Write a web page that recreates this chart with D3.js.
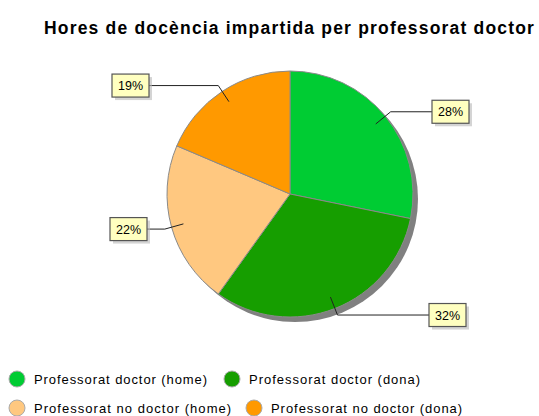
<!DOCTYPE html>
<html><head><meta charset="utf-8">
<script src="https://cdn.jsdelivr.net/npm/d3@7"></script>
<style>body{margin:0;background:#fff;}svg{display:block;font-family:Arial,"Liberation Sans",sans-serif;}</style>
</head><body>
<svg id="c" width="539" height="416"></svg>
<script>
const categories = ["Professorat doctor (home)", "Professorat doctor (dona)", "Professorat no doctor (home)", "Professorat no doctor (dona)"];
const values = [28.2, 31.7, 21.5, 18.6];
const colors = ["#00cc33", "#169e00", "#ffc880", "#ff9900"];
const title = "Hores de docència impartida per professorat doctor";

const svg = d3.select("#c");
const cx = 290, cy = 194, R = 123;

svg.append("text").attr("x", 44).attr("y", 34)
  .attr("font-size", 17.5).attr("font-weight", "bold").attr("letter-spacing", 1.1)
  .attr("fill", "#000").attr("textLength", 491).attr("lengthAdjust", "spacing").text(title);

const pie = d3.pie().sort(null).value(d => d)(values);
const arc = d3.arc().innerRadius(0).outerRadius(R);
const total = d3.sum(values);

const g = svg.append("g").attr("transform", `translate(${cx},${cy})`);
// shadow
g.append("circle").attr("cx", 5).attr("cy", 5).attr("r", R).attr("fill", "#808080");
g.selectAll("path.s").data(pie).enter().append("path")
  .attr("d", arc).attr("fill", (d, i) => colors[i])
  .attr("stroke", "#8a8a8a").attr("stroke-width", 1);

// labels
const boxX = [432, 429, 110, 112];
pie.forEach((d, i) => {
  const a = (d.startAngle + d.endAngle) / 2;
  const p1 = [Math.sin(a) * R * 0.9, -Math.cos(a) * R * 0.9];
  const p2 = [Math.sin(a) * (R + 7), -Math.cos(a) * (R + 7)];
  const right = Math.sin(a) > 0;
  const bw = 37, bh = 23;
  const bx = boxX[i] - cx;
  const by = p2[1] - bh / 2;
  const endX = right ? bx : bx + bw;
  g.append("polyline").attr("points", [p1, p2, [endX, p2[1]]].map(p => p.join(",")).join(" "))
    .attr("fill", "none").attr("stroke", "#222").attr("stroke-width", 1);
  g.append("rect").attr("x", bx + 3).attr("y", by + 3).attr("width", bw).attr("height", bh)
    .attr("fill", "#b8b8b8").attr("opacity", 0.6);
  g.append("rect").attr("x", bx).attr("y", by).attr("width", bw).attr("height", bh)
    .attr("fill", "#ffffc0").attr("stroke", "#555").attr("stroke-width", 1.2);
  g.append("text").attr("x", bx + bw / 2).attr("y", by + bh / 2 + 4.5).attr("text-anchor", "middle")
    .attr("font-size", 12.5).attr("fill", "#000").text(Math.round(values[i] / total * 100) + "%");
});

// legend
const legPos = [[17, 379], [232, 379], [17, 408], [254, 408]];
const legW = [174, 172, 198, 192];
categories.forEach((c, i) => {
  const [x, y] = legPos[i];
  svg.append("circle").attr("cx", x).attr("cy", y).attr("r", 8)
    .attr("fill", colors[i]).attr("stroke", "#aaa").attr("stroke-width", 1);
  svg.append("text").attr("x", x + 17).attr("y", y + 4.5).attr("font-size", 13)
    .attr("letter-spacing", 0.9).attr("fill", "#000")
    .attr("textLength", legW[i]).attr("lengthAdjust", "spacing").text(c);
});
</script>
</body></html>
